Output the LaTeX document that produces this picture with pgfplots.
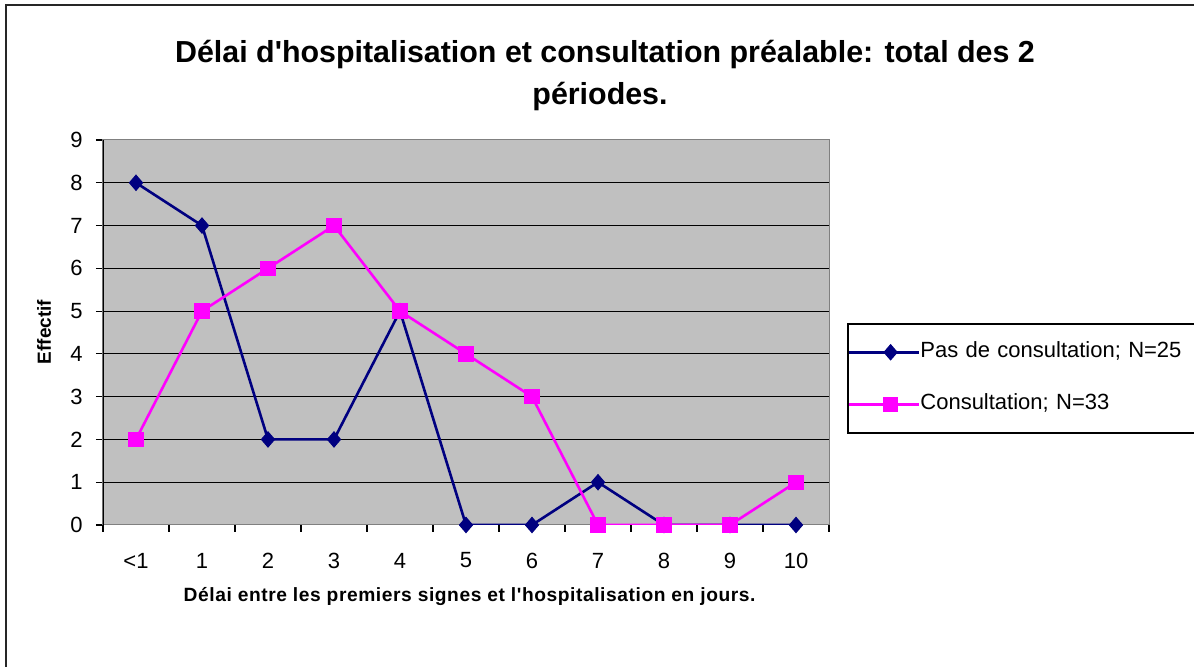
\documentclass[border=0pt]{standalone}
\usepackage{pgfplots}
\pgfplotsset{compat=1.18}
\usepackage{fontspec}
\setmainfont{Liberation Sans}[Ligatures=TeXOff]
\definecolor{navyc}{RGB}{0,0,128}
\definecolor{magc}{RGB}{255,0,255}
\definecolor{plotgray}{RGB}{192,192,192}
\definecolor{boxgray}{RGB}{128,128,128}
\begin{document}
\begin{tikzpicture}
\useasboundingbox (0,0) rectangle (597pt,333.5pt);
\draw[line width=1.2pt, black!85] (3pt,0pt) -- (3pt,331pt) -- (597pt,331pt);
\node[anchor=base, inner sep=0pt, font=\bfseries\fontsize{15.2}{18}\selectfont] at (302.5pt,302pt) {Délai d'hospitalisation et consultation préalable: total des 2};
\node[anchor=base, inner sep=0pt, font=\bfseries\fontsize{15.2}{18}\selectfont] at (300pt,281pt) {périodes.};
\begin{axis}[
  at={(51.5pt,71pt)}, anchor=south west,
  scale only axis, width=363pt, height=192.5pt,
  xmin=-0.5, xmax=10.5, ymin=0, ymax=9,
  xtick={0,...,10},
  xticklabels={<1,1,2,3,4,5,6,7,8,9,10},
  minor xtick={-0.5,0.5,...,10.5},
  ytick={0,...,9},
  xtick pos=left, ytick pos=left,
  tick align=outside,
  major x tick style={draw=none},
  minor tick length=3.5pt,
  major tick length=3.5pt,
  tick style={black, line width=0.6pt},
  ymajorgrids,
  major grid style={black, line width=0.5pt},
  axis line style={boxgray, line width=0.5pt},
  axis background/.style={fill=plotgray},
  /pgf/number format/assume math mode=true,
  ticklabel style={font=\fontsize{11}{13}\selectfont},
  xticklabel style={anchor=center, inner sep=0pt, yshift=-14.25pt},
  yticklabel style={anchor=east, inner sep=0pt, xshift=-6.5pt},
  xlabel={Délai entre les premiers signes et l'hospitalisation en jours.},
  xlabel style={at={(axis description cs:0.505,-0.187)}, anchor=center, inner sep=0pt, font=\bfseries\fontsize{9.6}{11}\selectfont\addfontfeatures{LetterSpace=3}},
  ylabel={Effectif},
  ylabel style={at={(axis description cs:-0.0813,0.501)}, anchor=center, inner sep=0pt, font=\bfseries\fontsize{9.5}{11}\selectfont},
  legend cell align=left,
  legend image code/.code={
    \path (0pt,0pt) -- (35pt,0pt);
    \draw[mark repeat=2,mark phase=2,#1] plot coordinates {(9.5pt,0pt) (20.75pt,0pt) (32pt,0pt)};
  },
  legend style={at={(axis description cs:1.0248,0.5247)}, anchor=north west,
    draw=black, line width=0.8pt, fill=white,
    inner xsep=0pt, inner ysep=9pt, row sep=15.5pt,
    nodes={inner sep=0pt, text height=8pt, text depth=2.5pt, text width=137.5pt, font=\fontsize{11}{13}\selectfont}},
]
\addplot[navyc, line width=1.3pt, mark=diamond*, mark size=3.8pt, mark options={xscale=1.15, fill=navyc, line width=0.5pt}]
  coordinates {(0,8) (1,7) (2,2) (3,2) (4,5) (5,0) (6,0) (7,1) (8,0) (9,0) (10,0)};
\addlegendentry{Pas de consultation; N=25}
\addplot[magc, line width=1.3pt, mark=square*, mark size=3.6pt, mark options={fill=magc, line width=0.5pt}]
  coordinates {(0,2) (1,5) (2,6) (3,7) (4,5) (5,4) (6,3) (7,0) (8,0) (9,0) (10,1)};
\addlegendentry{Consultation; N=33}
\draw[black, line width=0.6pt] (rel axis cs:0,0) -- (rel axis cs:0,1);
\end{axis}
\end{tikzpicture}
\end{document}
